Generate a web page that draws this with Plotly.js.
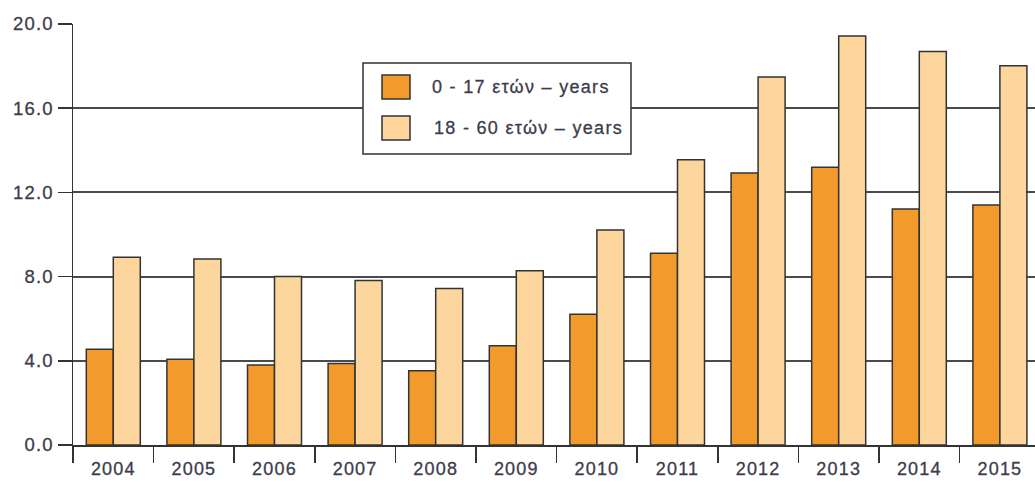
<!DOCTYPE html>
<html>
<head>
<meta charset="utf-8">
<script src="https://cdn.plot.ly/plotly-3.0.1.min.js"></script>
<style>
  html, body { margin: 0; padding: 0; background: #ffffff; }
  #chart { width: 1035px; height: 482px; }
  /* slightly tracked, slightly heavier lettering for the chart text */
  #chart .xtick text, #chart .ytick text { letter-spacing: 1.2px; stroke: #3c3c4c; stroke-width: 0.3px; }
  #chart .annotation-text { letter-spacing: 1.3px; stroke: #3c3c4c; stroke-width: 0.3px; }
</style>
</head>
<body>
<div id="chart"></div>
<script>
// Years on the category axis
const years = ['2004', '2005', '2006', '2007', '2008', '2009', '2010', '2011', '2012', '2013', '2014', '2015'];

// Series values (%)
const ages0to17 = [4.55, 4.07, 3.80, 3.87, 3.53, 4.72, 6.21, 9.11, 12.92, 13.19, 11.21, 11.40];
const ages18to60 = [8.92, 8.84, 8.01, 7.82, 7.44, 8.28, 10.21, 13.55, 17.48, 19.43, 18.69, 18.02];

// Series names and legend labels
const seriesNames = ['0 - 17 ετών – years', '18 - 60 ετών – years'];
const seriesColors = ['#f29b2c', '#fcd69d'];

// Y axis ticks
const yTicks = [0, 4, 8, 12, 16, 20];

const textColor = '#3c3c4c';
const lineColor = '#333333';
const gridColor = '#4a4a4a';
const fontFamily = '"Liberation Sans", Arial, sans-serif';

// Plot area in pixels (for placing the hand-built legend box)
const W = 1035, H = 482;
const M = { l: 73, r: 0, t: 24, b: 37 };
const plotW = W - M.l - M.r;
const plotH = H - M.t - M.b;
const px = x => (x - M.l) / plotW;
const py = y => (H - M.b - y) / plotH;

const traces = [ages0to17, ages18to60].map((vals, i) => ({
  type: 'bar',
  name: seriesNames[i],
  x: years,
  y: vals,
  marker: { color: seriesColors[i], line: { color: lineColor, width: 1.5 } },
  hoverinfo: 'skip'
}));

// Legend drawn as a framed box with swatches and labels
const legendBox = { x0: 363, x1: 631, y0: 63, y1: 154 };
const swatch = { x0: 382, x1: 410, h: 24 };
const rowCenters = [87, 128];
const labelLeft = [430, 432];

const shapes = [
  {
    type: 'rect', xref: 'paper', yref: 'paper', layer: 'above',
    x0: px(legendBox.x0), x1: px(legendBox.x1),
    y0: py(legendBox.y1), y1: py(legendBox.y0),
    fillcolor: '#ffffff', line: { color: lineColor, width: 1.5 }
  }
];
const annotations = [];
rowCenters.forEach((cy, i) => {
  shapes.push({
    type: 'rect', xref: 'paper', yref: 'paper', layer: 'above',
    x0: px(swatch.x0), x1: px(swatch.x1),
    y0: py(cy + swatch.h / 2), y1: py(cy - swatch.h / 2),
    fillcolor: seriesColors[i], line: { color: lineColor, width: 1.5 }
  });
  annotations.push({
    xref: 'paper', yref: 'paper', x: px(labelLeft[i]), y: py(cy),
    xanchor: 'left', yanchor: 'middle', align: 'left', showarrow: false,
    text: seriesNames[i],
    font: { family: fontFamily, size: 18, color: textColor }
  });
});

const layout = {
  width: W, height: H,
  margin: M,
  paper_bgcolor: '#ffffff',
  plot_bgcolor: '#ffffff',
  showlegend: false,
  barmode: 'group',
  bargap: 0.33,
  bargroupgap: 0,
  font: { family: fontFamily, color: textColor, size: 18 },
  xaxis: {
    type: 'category',
    range: [-0.5, -0.5 + plotW / 80.6],
    showgrid: false,
    zeroline: false,
    showline: true,
    linecolor: lineColor,
    linewidth: 1.5,
    ticks: 'outside',
    tickson: 'boundaries',
    ticklen: 16,
    tickwidth: 1.5,
    tickcolor: lineColor,
    ticklabelstandoff: 7,
    tickfont: { family: fontFamily, size: 18, color: textColor }
  },
  yaxis: {
    range: [0, 20],
    tickvals: yTicks,
    ticktext: yTicks.map(v => v.toFixed(1)),
    showgrid: true,
    gridcolor: gridColor,
    gridwidth: 2,
    zeroline: false,
    showline: true,
    linecolor: lineColor,
    linewidth: 1.5,
    ticks: 'outside',
    ticklen: 14,
    tickwidth: 1.5,
    tickcolor: lineColor,
    tickfont: { family: fontFamily, size: 18.5, color: textColor }
  },
  shapes: shapes,
  annotations: annotations
};

Plotly.newPlot('chart', traces, layout, { displayModeBar: false, staticPlot: true });
</script>
</body>
</html>
